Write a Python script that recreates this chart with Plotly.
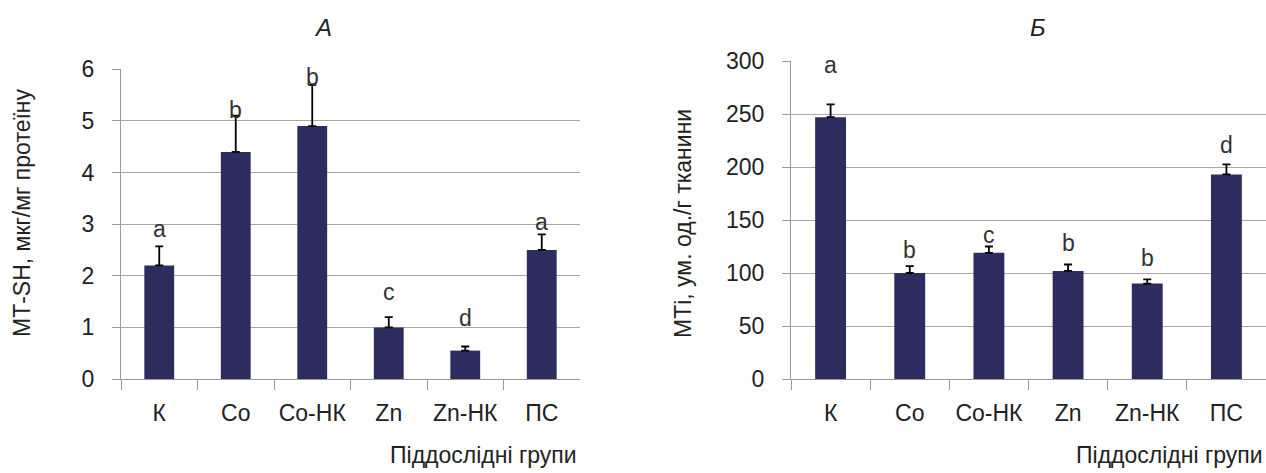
import plotly.graph_objects as go

groups = ["К", "Co", "Co-НК", "Zn", "Zn-НК", "ПС"]

# Panel А: MT-SH
mtsh_values = [2.2, 4.4, 4.9, 1.0, 0.55, 2.5]
mtsh_errors = [0.37, 0.7, 0.8, 0.2, 0.08, 0.3]
mtsh_letters = ["a", "b", "b", "c", "d", "a"]
mtsh_letter_y = [2.90, 5.21, 5.85, 1.68, 1.18, 3.05]
mtsh_ticks = [0, 1, 2, 3, 4, 5, 6]

# Panel Б: MTi
mti_values = [247, 100, 119, 102, 90, 193]
mti_errors = [12, 6.5, 6, 6, 4, 9.5]
mti_letters = ["a", "b", "c", "b", "b", "d"]
mti_letter_y = [296, 122, 136, 128, 114, 221]
mti_ticks = [0, 50, 100, 150, 200, 250, 300]

W, H = 1266, 473
FONT = "Liberation Sans, Arial, sans-serif"
BAR = "#2c2d5e"
GRID = "#a8a8a8"
AXIS = "#9a9a9a"
TXT = "#222222"
TICK_SIZE = 23
TITLE_SIZE = 23

fig = go.Figure()
fig.add_trace(go.Bar(
    x=groups, y=mtsh_values, xaxis="x", yaxis="y", marker_color=BAR,
    marker_line_width=0,
    error_y=dict(type="data", symmetric=False, array=mtsh_errors,
                 arrayminus=[0] * len(mtsh_errors), color="black",
                 thickness=1.8, width=4),
    showlegend=False, hoverinfo="x+y"))
fig.add_trace(go.Bar(
    x=groups, y=mti_values, xaxis="x2", yaxis="y2", marker_color=BAR,
    marker_line_width=0,
    error_y=dict(type="data", symmetric=False, array=mti_errors,
                 arrayminus=[0] * len(mti_errors), color="black",
                 thickness=1.8, width=4),
    showlegend=False, hoverinfo="x+y"))

annotations = []
for g, t, yv in zip(groups, mtsh_letters, mtsh_letter_y):
    annotations.append(dict(x=g, y=yv, xref="x", yref="y", text=t, showarrow=False,
                            font=dict(size=23, color="#333333", family=FONT),
                            xanchor="center", yanchor="middle"))
for g, t, yv in zip(groups, mti_letters, mti_letter_y):
    annotations.append(dict(x=g, y=yv, xref="x2", yref="y2", text=t, showarrow=False,
                            font=dict(size=23, color="#333333", family=FONT),
                            xanchor="center", yanchor="middle"))

top, bottom = 61, 379
ph = bottom - top


def py(pix):
    return (bottom - pix) / ph


# panel titles
annotations.append(dict(x=323 / W, y=py(28), xref="paper", yref="paper", text="<i>А</i>",
                        showarrow=False, font=dict(size=24, color=TXT, family=FONT),
                        xanchor="center", yanchor="middle"))
annotations.append(dict(x=1038 / W, y=py(28), xref="paper", yref="paper", text="<i>Б</i>",
                        showarrow=False, font=dict(size=24, color=TXT, family=FONT),
                        xanchor="center", yanchor="middle"))
# x titles
annotations.append(dict(x=579 / W, y=py(455), xref="paper", yref="paper", text="Піддослідні групи",
                        showarrow=False, font=dict(size=TITLE_SIZE, color=TXT, family=FONT),
                        xanchor="right", yanchor="middle"))
annotations.append(dict(x=1265 / W, y=py(455), xref="paper", yref="paper", text="Піддослідні групи",
                        showarrow=False, font=dict(size=TITLE_SIZE, color=TXT, family=FONT),
                        xanchor="right", yanchor="middle"))
# y titles
annotations.append(dict(x=22 / W, y=py(213), xref="paper", yref="paper", text="МТ-SH, мкг/мг протеїну",
                        showarrow=False, textangle=-90, font=dict(size=TITLE_SIZE, color=TXT, family=FONT),
                        xanchor="center", yanchor="middle"))
annotations.append(dict(x=683 / W, y=py(224), xref="paper", yref="paper", text="МТі, ум. од./г тканини",
                        showarrow=False, textangle=-90, font=dict(size=TITLE_SIZE, color=TXT, family=FONT),
                        xanchor="center", yanchor="middle"))

xaxis_common = dict(type="category", tickson="boundaries", ticks="outside", ticklen=10,
                    tickcolor=AXIS, tickwidth=1.3, showline=True, linecolor=AXIS, linewidth=1.3,
                    showgrid=False, tickfont=dict(size=TICK_SIZE, color=TXT, family=FONT),
                    tickangle=0, ticklabelstandoff=13, fixedrange=True)
yaxis_common = dict(showgrid=True, gridcolor=GRID, gridwidth=1.3, showline=True, linecolor=AXIS,
                    linewidth=1.3, ticks="outside", ticklen=8, tickcolor=AXIS, tickwidth=1.3,
                    zeroline=False, tickfont=dict(size=TICK_SIZE, color=TXT, family=FONT),
                    ticklabelstandoff=13, fixedrange=True)

fig.update_layout(
    width=W, height=H,
    margin=dict(l=0, r=0, t=top, b=H - bottom),
    paper_bgcolor="white", plot_bgcolor="white",
    bargap=0.61,
    xaxis=dict(domain=[121 / W, 580 / W], anchor="y", **xaxis_common),
    yaxis=dict(domain=[0, (bottom - 69.3) / ph], anchor="x", range=[0, 6],
               tickvals=mtsh_ticks, **yaxis_common),
    xaxis2=dict(domain=[791 / W, 1.0], anchor="y2", **xaxis_common),
    yaxis2=dict(domain=[0, 1], anchor="x2", range=[0, 300],
                tickvals=mti_ticks, **yaxis_common),
    annotations=annotations,
)

fig.write_html("out.html", config={"displayModeBar": False},
               post_script="document.body.style.margin='0';document.body.style.padding='0';"
                           "document.body.style.overflow='hidden';")
